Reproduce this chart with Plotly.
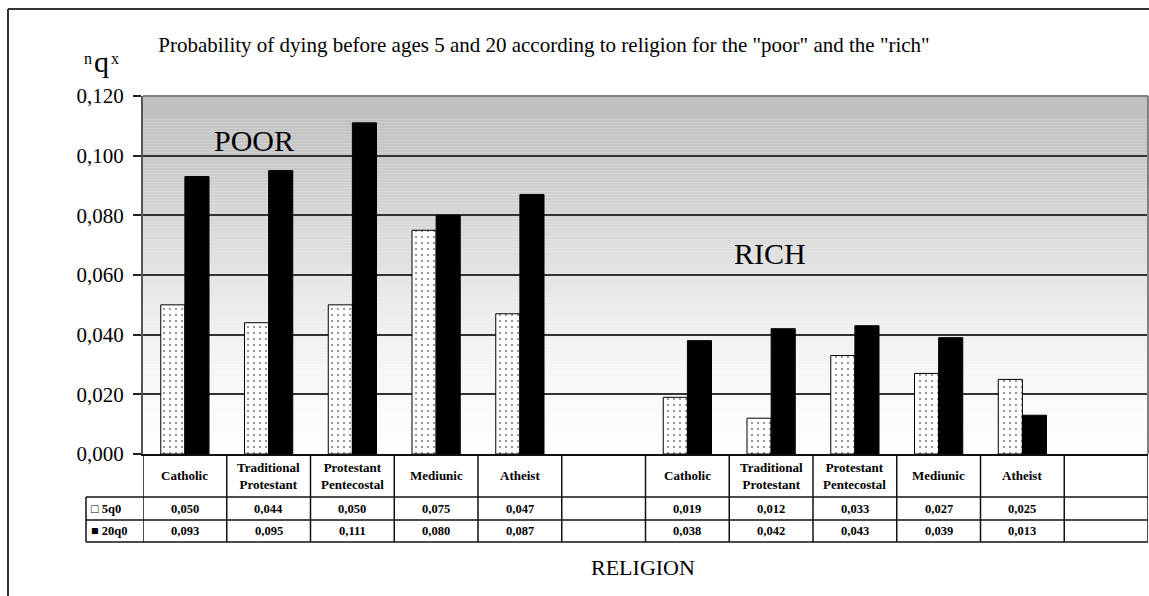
import plotly.graph_objects as go

# ---------------- data ----------------
religions = ["Catholic", "Traditional<br>Protestant", "Protestant<br>Pentecostal", "Mediunic", "Atheist"]
poor_5q0 = [0.050, 0.044, 0.050, 0.075, 0.047]
poor_20q0 = [0.093, 0.095, 0.111, 0.080, 0.087]
rich_5q0 = [0.019, 0.012, 0.033, 0.027, 0.025]
rich_20q0 = [0.038, 0.042, 0.043, 0.039, 0.013]
series_names = ["5q0", "20q0"]
legend_keys = ["□", "■"]
y_ticks = [0.000, 0.020, 0.040, 0.060, 0.080, 0.100, 0.120]
group_labels = ["POOR", "RICH"]
title_text = 'Probability of dying before ages 5 and 20 according to religion for the "poor" and the "rich"'

# ---------------- layout geometry ----------------
W, H = 1149, 596
ML, MR, MT, MB = 143, 1, 96, 142
PW, PH = W - ML - MR, H - MT - MB
FONT = "Liberation Serif, Times New Roman, serif"


def xp(px):
    return (px - ML) / PW


def yp(py):
    return (H - MB - py) / PH


def fmt(v):
    return f"{v:.3f}".replace(".", ",")


n = len(religions)
x_poor = list(range(n))
x_rich = [n + 1 + i for i in range(n)]
n_slots = 2 * (n + 1)
slot_labels = religions + [""] + religions + [""]

fig = go.Figure()
fig.add_trace(go.Bar(
    x=x_poor + x_rich, y=poor_5q0 + rich_5q0, name=series_names[0],
    marker=dict(color="white", line=dict(color="black", width=1),
                pattern=dict(shape=".", fgcolor="black", bgcolor="white", size=6, solidity=0.1)),
))
fig.add_trace(go.Bar(
    x=x_poor + x_rich, y=poor_20q0 + rich_20q0, name=series_names[1],
    marker=dict(color="black", line=dict(color="black", width=1)),
))

shapes = []
# background gradient (style)
anchors = [(0.0, 254), (0.02, 249), (0.04, 240), (0.06, 229), (0.08, 213), (0.10, 199), (0.12, 192)]
steps = 120
for i in range(steps):
    v0 = 0.12 * i / steps
    v1 = 0.12 * (i + 1) / steps
    vm = (v0 + v1) / 2
    for (a0, c0), (a1, c1) in zip(anchors[:-1], anchors[1:]):
        if a0 <= vm <= a1:
            c = c0 + (c1 - c0) * (vm - a0) / (a1 - a0)
            break
    c = int(round(c))
    shapes.append(dict(type="rect", xref="paper", yref="y", x0=0, x1=1, y0=v0, y1=v1,
                       fillcolor=f"rgb({c},{c},{c})", line=dict(width=0), layer="below"))

# plot-area border
shapes.append(dict(type="line", xref="paper", yref="paper", x0=0, x1=1, y0=1, y1=1,
                   line=dict(color="#808080", width=2)))
shapes.append(dict(type="line", xref="paper", yref="paper", x0=1, x1=1, y0=0, y1=1,
                   line=dict(color="#808080", width=2)))

# data table grid
tbl_line = dict(color="#111", width=1.5)
row_tops = [454, 497, 520, 542]
for py in row_tops[1:]:
    shapes.append(dict(type="line", xref="paper", yref="paper", x0=xp(86), x1=1,
                       y0=yp(py), y1=yp(py), line=tbl_line))
for k in range(n_slots + 1):
    shapes.append(dict(type="line", xref="x", yref="paper", x0=k - 0.5, x1=k - 0.5,
                       y0=0, y1=yp(542), line=tbl_line))
shapes.append(dict(type="line", xref="paper", yref="paper", x0=xp(86), x1=xp(86),
                   y0=yp(497), y1=yp(542), line=tbl_line))

# outer chart border (top & left visible)
shapes.append(dict(type="line", xref="paper", yref="paper", x0=xp(8), x1=xp(1152),
                   y0=yp(9), y1=yp(9), line=dict(color="#333", width=2)))
shapes.append(dict(type="line", xref="paper", yref="paper", x0=xp(8), x1=xp(8),
                   y0=yp(9), y1=yp(600), line=dict(color="#333", width=2)))

annotations = []
cat_font = dict(family=FONT, size=13, color="black", weight="bold")
val_font = dict(family=FONT, size=12.5, color="black", weight="bold")
for i, lab in enumerate(slot_labels):
    if lab:
        annotations.append(dict(x=i, y=yp(475.5), xref="x", yref="paper", text=lab,
                                showarrow=False, font=cat_font, xanchor="center", yanchor="middle"))
row_y = [yp(508.5), yp(531)]
for xs, vals in [(x_poor, poor_5q0), (x_rich, rich_5q0)]:
    for x, v in zip(xs, vals):
        annotations.append(dict(x=x, y=row_y[0], xref="x", yref="paper", text=fmt(v),
                                showarrow=False, font=val_font, xanchor="center", yanchor="middle"))
for xs, vals in [(x_poor, poor_20q0), (x_rich, rich_20q0)]:
    for x, v in zip(xs, vals):
        annotations.append(dict(x=x, y=row_y[1], xref="x", yref="paper", text=fmt(v),
                                showarrow=False, font=val_font, xanchor="center", yanchor="middle"))
# legend keys in table
for r in range(2):
    annotations.append(dict(x=xp(89), y=row_y[r], xref="paper", yref="paper",
                            text=legend_keys[r] + " " + series_names[r],
                            showarrow=False, font=val_font, xanchor="left", yanchor="middle"))

# group labels
annotations.append(dict(x=xp(254), y=yp(140), xref="paper", yref="paper", text=group_labels[0],
                        showarrow=False, font=dict(family=FONT, size=30, color="black"),
                        xanchor="center", yanchor="middle"))
annotations.append(dict(x=xp(770), y=yp(253), xref="paper", yref="paper", text=group_labels[1],
                        showarrow=False, font=dict(family=FONT, size=30, color="black"),
                        xanchor="center", yanchor="middle"))
# axis titles
annotations.append(dict(x=xp(643), y=yp(567), xref="paper", yref="paper", text="RELIGION",
                        showarrow=False, font=dict(family=FONT, size=22, color="black"),
                        xanchor="center", yanchor="middle"))
annotations.append(dict(x=xp(88), y=yp(59), xref="paper", yref="paper", text="n",
                        showarrow=False, font=dict(family=FONT, size=16, color="black"),
                        xanchor="center", yanchor="middle"))
annotations.append(dict(x=xp(101.5), y=yp(61), xref="paper", yref="paper", text="q",
                        showarrow=False, font=dict(family=FONT, size=30, color="black"),
                        xanchor="center", yanchor="middle"))
annotations.append(dict(x=xp(114.5), y=yp(59), xref="paper", yref="paper", text="x",
                        showarrow=False, font=dict(family=FONT, size=16, color="black"),
                        xanchor="center", yanchor="middle"))

fig.update_layout(
    width=W, height=H,
    margin=dict(l=ML, r=MR, t=MT, b=MB),
    paper_bgcolor="white", plot_bgcolor="white",
    separators=",.",
    barmode="group", bargap=0.424, bargroupgap=0,
    showlegend=False,
    title=dict(text=title_text, x=544 / W, xanchor="center", y=1 - 45 / H, yanchor="middle",
               font=dict(family=FONT, size=21, color="black")),
    xaxis=dict(range=[-0.5, n_slots - 0.5], showticklabels=False, ticks="",
               showgrid=False, zeroline=False, showline=True, linecolor="#111", linewidth=1.5),
    yaxis=dict(range=[0, 0.12], tickvals=y_ticks, tickformat=".3f",
               ticks="outside", ticklen=8, tickcolor="#222", tickwidth=1.5,
               ticklabelstandoff=5,
               tickfont=dict(family=FONT, size=21, color="black"),
               showgrid=True, gridcolor="#333", gridwidth=1.5, zeroline=False,
               showline=True, linecolor="#555", linewidth=2),
    shapes=shapes, annotations=annotations,
)

fig.write_html("out.html")
